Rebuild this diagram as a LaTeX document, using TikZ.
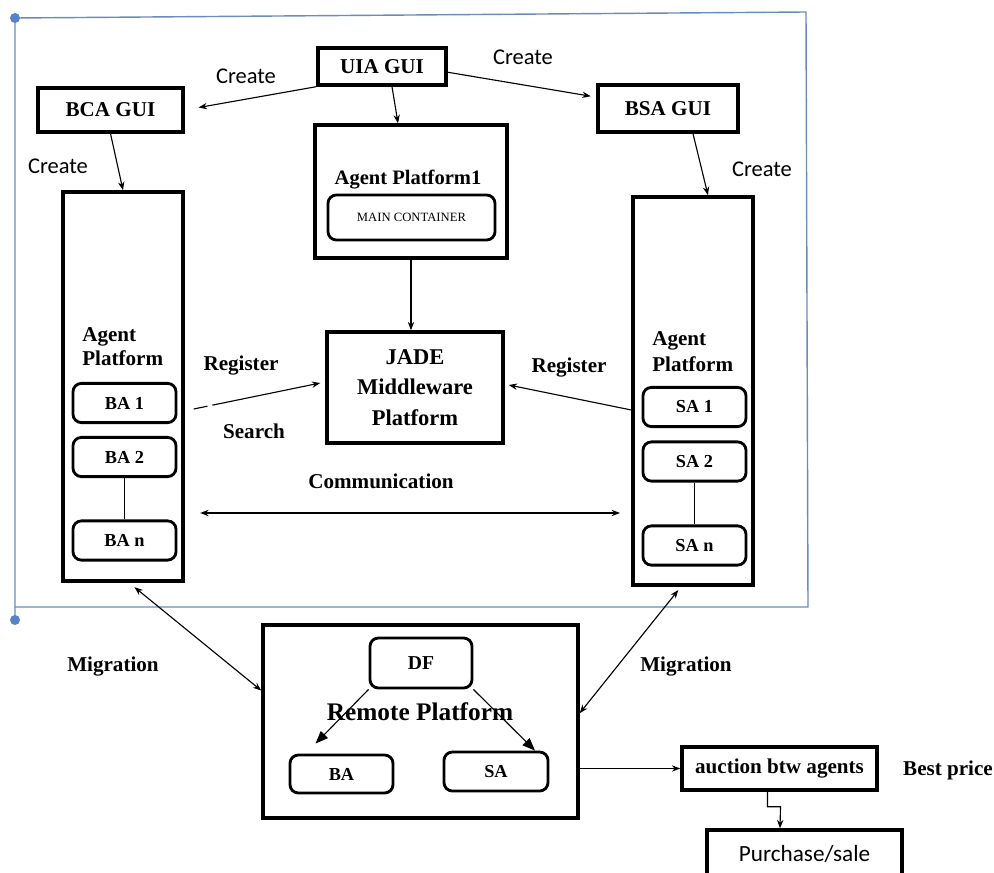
\documentclass[tikz,border=0pt]{standalone}
\usepackage{fontspec}
\setmainfont{Liberation Serif}
\newfontfamily\calibrifont{Carlito}
\usetikzlibrary{arrows.meta,positioning,calc}
\definecolor{frameblue}{RGB}{105,140,190}
\definecolor{dotblue}{RGB}{85,130,200}

\begin{document}
\begin{tikzpicture}[x=0.025cm, y=-0.025cm,
    box/.style={rectangle, draw, line width=2.4pt, font=\bfseries\fontsize{15}{18}\selectfont, align=center, inner sep=0pt},
    rbox/.style={rectangle, draw, line width=2pt, rounded corners=6pt, font=\bfseries\fontsize{13}{16}\selectfont, inner sep=0pt, minimum width=2.575cm, minimum height=0.98cm},
    lbl/.style={font=\bfseries\fontsize{15}{18}\selectfont, inner sep=0pt},
    slbl/.style={font=\calibrifont\fontsize{16}{19}\selectfont, inner sep=0pt},
    arr/.style={-{Stealth[length=6pt,width=4.5pt]}, line width=0.8pt},
    dbl/.style={{Stealth[length=6pt,width=4.5pt]}-{Stealth[length=6pt,width=4.5pt]}, line width=0.8pt},
]
    \useasboundingbox (0,0) rectangle (994,873);

    \draw[frameblue, line width=1pt] (15,620) -- (15,18) -- (806,12) -- (808,607) -- (15,607);
    \fill[dotblue] (15,18) circle (5) (15,620) circle (5);

    \node[box, minimum width=3.2cm, minimum height=0.925cm] (uia) at (382,66.5) {UIA GUI};
    \node[box, minimum width=3.625cm, minimum height=1.1cm] (bca) at (110.5,110) {BCA GUI};
    \node[box, minimum width=3.5cm, minimum height=1.175cm] (bsa) at (668,108.5) {BSA GUI};

    \node[box, minimum width=4.8cm, minimum height=3.325cm] (ap1) at (411,191.5) {};
    \node[font=\bfseries\fontsize{14.6}{17}\selectfont, inner sep=0pt] (ap1lbl) at (408,180) {Agent Platform1};
    \node[rbox, minimum width=4.175cm, minimum height=1.125cm, font=\fontsize{9}{11}\selectfont] (main) at (411.5,217.5) {MAIN CONTAINER};

    \node[box, minimum width=4.4cm, minimum height=2.775cm, font=\bfseries\fontsize{16}{21.5}\selectfont] (jade) at (415,387.5) {JADE\\Middleware\\Platform};

    \node[box, minimum width=3cm, minimum height=9.725cm] (lap) at (123,386.5) {};
    \node[lbl, align=left, anchor=north west, font=\bfseries\fontsize{15}{17}\selectfont] (laplbl) at (82,327) {Agent\\Platform};
    \node[rbox] (ba1) at (124.5,403) {BA 1};
    \node[rbox] (ba2) at (124.5,457) {BA 2};
    \node[rbox] (ban) at (124.5,540.5) {BA n};

    \node[box, minimum width=3cm, minimum height=9.7cm] (rap) at (693,391) {};
    \node[lbl, align=left, anchor=north west, font=\bfseries\fontsize{15}{18.5}\selectfont] (raplbl) at (652,331) {Agent\\Platform};
    \node[rbox] (sa1) at (694.5,407) {SA 1};
    \node[rbox] (sa2) at (694.5,461.5) {SA 2};
    \node[rbox] (san) at (694.5,545.5) {SA n};

    \node[box, minimum width=7.875cm, minimum height=4.825cm] (remote) at (420.5,721.5) {};
    \node[rbox, minimum width=2.55cm, minimum height=1.25cm, font=\bfseries\fontsize{14}{17}\selectfont] (df) at (421,663) {DF};
    \node[rbox, minimum width=2.575cm, minimum height=0.95cm] (rba) at (341.5,774) {BA};
    \node[rbox, minimum width=2.6cm, minimum height=0.975cm] (rsa) at (496,771.5) {SA};
    \node[font=\bfseries\fontsize{18}{21}\selectfont, inner sep=0pt] (remlbl) at (420,712) {Remote Platform};

    \node[box, minimum width=4.875cm, minimum height=1.075cm] (auction) at (779.5,768.5) {auction btw agents};
    \node[box, minimum width=4.875cm, minimum height=1.2cm, font=\calibrifont\fontsize{16.5}{19}\selectfont] (purchase) at (804.5,854) {Purchase/sale};
    \node[lbl] (best) at (948,770) {Best price};

    \node[slbl] (c1) at (246,76) {Create};
    \node[slbl] (c2) at (523,57) {Create};
    \node[slbl] (c3) at (58,166) {Create};
    \node[slbl] (c4) at (762,169) {Create};
    \node[lbl] (reg1) at (241,366) {Register};
    \node[lbl] (srch) at (254,431) {Search};
    \node[lbl] (reg2) at (569,368) {Register};
    \node[lbl] (comm) at (381,481) {Communication};
    \node[lbl] (mig1) at (113,667) {Migration};
    \node[lbl] (mig2) at (686,667) {Migration};

    \coordinate (commy) at (0,513);

    \draw[arr, shorten >=10pt] (uia.south west) -- (bca.east);
    \draw[arr, shorten >=4pt] (uia.-5) -- (bsa.171);
    \draw[arr] ($(uia.south)+(10,0)$) -- ($(ap1.north)+(-13,0)$);
    \draw[arr] (bca.south) -- (lap.north);
    \draw[arr] ($(bsa.south)+(25,0)$) -- ($(rap.north)+(15,0)$);
    \draw[arr] (ap1.south) -- (ap1.south |- jade.north);

    \draw[arr, dash pattern=on 10pt off 3.5pt on 300pt] ($(lap.east)+(9,22.5)$) -- ($(jade.west)+(-5,-4.5)$);
    \draw[arr] ($(rap.west)+(0,19)$) -- ($(jade.east)+(4,-2.5)$);
    \draw[dbl, shorten <=11pt, shorten >=8pt] (lap.east |- commy) -- (rap.west |- commy);

    \draw[line width=0.8pt] (ba2.south) -- (ban.north);
    \draw[line width=0.8pt] (sa2.south) -- (san.north);

    \draw[dbl, shorten <=5pt] ($(lap.south)+(6,0)$) -- (remote.169);
    \draw[dbl, shorten <=3pt] ($(rap.south)+(-12,0)$) -- (remote.3.5);

    \draw[-{Triangle[length=9pt,width=7pt]}, line width=0.8pt] (df.south west) -- ($(rba.north)+(-26,-10)$);
    \draw[-{Triangle[length=9pt,width=7pt]}, line width=0.8pt] (df.south east) -- ($(rsa.north)+(39,0)$);

    \draw[arr] (remote.east |- auction) -- (auction.west);
    \draw[arr] ($(auction.south)+(-12,0)$) -- ++(0,15) -- ++(13,0) -- ($(purchase.north)+(-24.5,0)$);
\end{tikzpicture}
\end{document}
